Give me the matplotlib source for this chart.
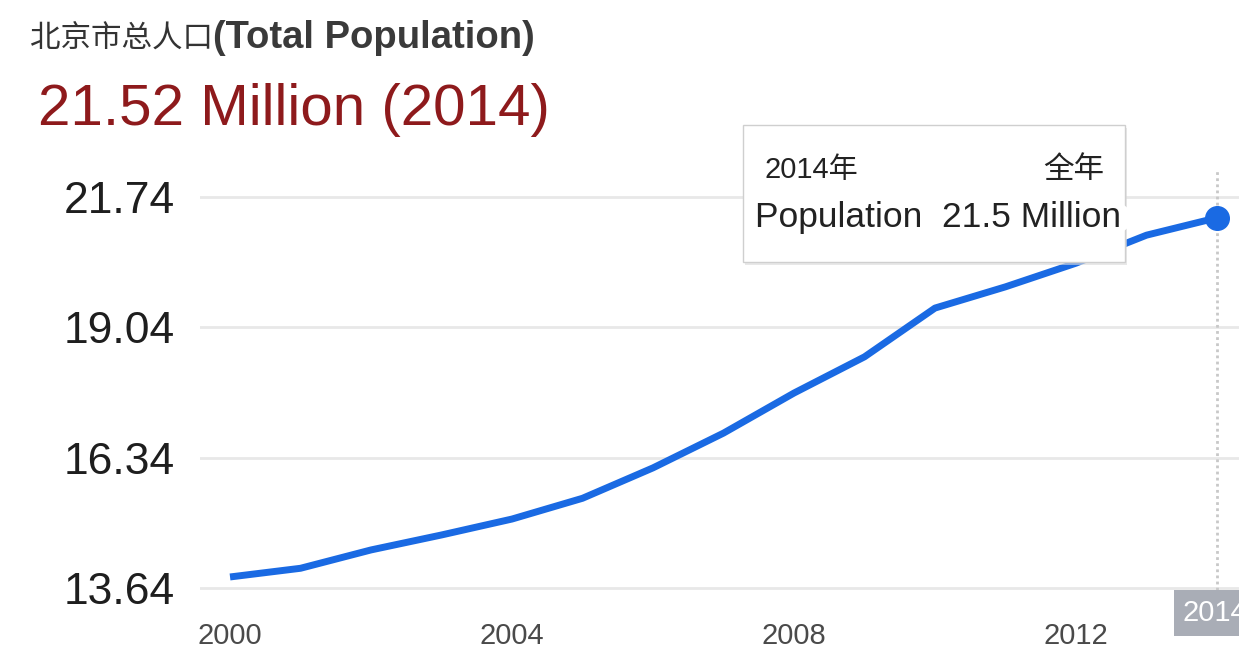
import matplotlib.pyplot as plt
from matplotlib.patches import Rectangle, Polygon

# data (million people)
years = [2000, 2001, 2002, 2003, 2004, 2005, 2006, 2007,
         2008, 2009, 2010, 2011, 2012, 2013, 2014]
population = [13.87, 14.05, 14.43, 14.74, 15.07, 15.50, 16.13, 16.85,
              17.68, 18.43, 19.44, 19.88, 20.37, 20.95, 21.31]
y_ticks = [13.64, 16.34, 19.04, 21.74]
x_ticks = [2000, 2004, 2008, 2012]
headline_value = 21.52
tooltip_value = 21.5

LATIN = ['Liberation Sans', 'Noto Sans CJK SC']
CJK = ['Noto Sans CJK SC', 'Liberation Sans']
BLUE = '#1a6ae3'

W, H = 1239, 647
fig = plt.figure(figsize=(W / 100, H / 100), dpi=100)
ax = fig.add_axes([200 / W, 1 - 590 / H, 1 - 200 / W, (590 - 170) / H])

ax.plot(years, population, color=BLUE, lw=5, solid_joinstyle='round',
        solid_capstyle='butt', zorder=3)
ax.plot(years[-1], population[-1], 'o', color=BLUE, ms=17, zorder=4)
ax.axvline(years[-1], color='#c8c8c8', lw=2, ls=(0, (1, 1.2)), zorder=2)

ax.set_xlim(1999.574, 2014.312)
ax.set_ylim(13.60, 22.30)
ax.set_yticks(y_ticks)
ax.set_yticklabels([f'{v:.2f}' for v in y_ticks], family=LATIN,
                   fontsize=32, color='#1e1e1e')
ax.set_xticks(x_ticks)
ax.set_xticklabels([str(v) for v in x_ticks], family=LATIN,
                   fontsize=21, color='#4a4a4a')
ax.tick_params(axis='y', length=0, pad=18)
ax.tick_params(axis='x', length=0, pad=23)
ax.grid(axis='y', color='#e8e8e8', lw=2)
ax.set_axisbelow(True)
for s in ax.spines.values():
    s.set_visible(False)

# highlighted last year label on x axis
ax.text(years[-1] - 0.03, -0.055, str(years[-1]), transform=ax.get_xaxis_transform(),
        ha='center', va='center', fontsize=21, color='white', family=LATIN,
        bbox=dict(boxstyle='square,pad=0.3', fc='#a9adb6', ec='none'),
        clip_on=False)

# titles
fig.text(30 / W, 1 - 38 / H, '北京市总人口', family=CJK, fontsize=22,
         weight='medium', color='#333333', va='center', ha='left')
fig.text(213 / W, 1 - 38 / H, '(Total Population)', family=LATIN, fontsize=27.5,
         weight='bold', color='#3a3a3a', va='center', ha='left')
fig.text(38 / W, 1 - 110 / H, f'{headline_value:.2f} Million ({years[-1]})',
         family=LATIN, fontsize=42, color='#8e1a1c', va='center', ha='left')

# tooltip
x0, x1, y0, y1 = 743 / W, 1125 / W, 1 - 262 / H, 1 - 125 / H
fig.patches.append(Rectangle((x0 + 2 / W, y0 - 3 / H), x1 - x0, y1 - y0,
                             transform=fig.transFigure, fc='#d9d9d9', ec='none',
                             alpha=0.6, zorder=5))
fig.patches.append(Rectangle((x0, y0), x1 - x0, y1 - y0, transform=fig.transFigure,
                             fc='white', ec='#cfcfcf', lw=1, zorder=6))
fig.patches.append(Polygon([(x1 - 1 / W, 1 - 205 / H), (1140 / W, 1 - 218 / H),
                            (x1 - 1 / W, 1 - 231 / H)], closed=True,
                           transform=fig.transFigure, fc='white', ec='none', zorder=7))
fig.text(765 / W, 1 - 170 / H, f'{years[-1]}年', family=LATIN, fontsize=21,
         color='#222222', va='center', ha='left', zorder=8)
fig.text(1104 / W, 1 - 170 / H, '全年', family=CJK, fontsize=22,
         color='#222222', va='center', ha='right', zorder=8)
fig.text(755 / W, 1 - 218 / H, f'Population  {tooltip_value} Million', family=LATIN,
         fontsize=25.5, color='#222222', va='center', ha='left', zorder=8)

fig.savefig('out.png', dpi=100, facecolor='white')
